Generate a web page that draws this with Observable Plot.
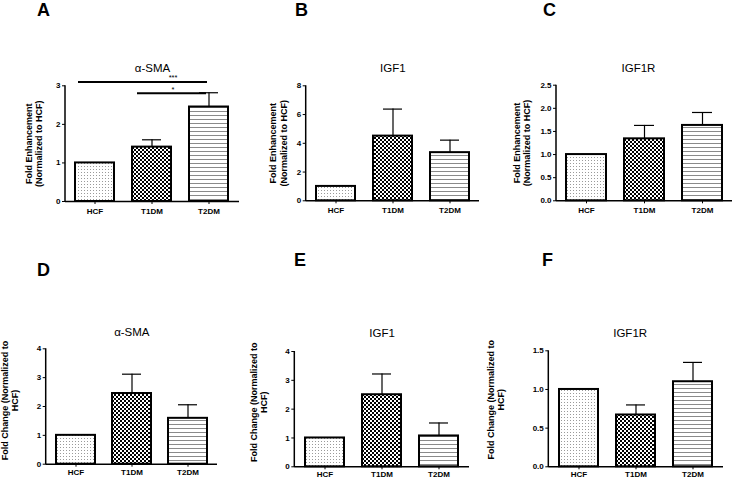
<!DOCTYPE html>
<html><head><meta charset="utf-8">
<script src="https://cdn.jsdelivr.net/npm/d3@7"></script>
<script src="https://cdn.jsdelivr.net/npm/@observablehq/plot@0.6"></script>
<style>
html,body{margin:0;padding:0;background:#fff;}
#root{position:relative;width:733px;height:479px;overflow:hidden;font-family:"Liberation Sans",Arial,sans-serif;}
.panel{position:absolute;}
.letter{position:absolute;font-family:"Liberation Sans",Arial,sans-serif;font-weight:bold;font-size:18px;line-height:1;}
</style></head>
<body>
<svg width="0" height="0" style="position:absolute">
  <defs>
    <pattern id="pDots" width="3" height="3" patternUnits="userSpaceOnUse">
      <rect width="3" height="3" fill="#fff"/><rect x="0" y="0" width="1" height="1" fill="#9a9a9a"/>
    </pattern>
    <pattern id="pCheck" width="4" height="4" patternUnits="userSpaceOnUse">
      <rect width="4" height="4" fill="#fff"/><rect x="0" y="0" width="2" height="2" fill="#000"/><rect x="2" y="2" width="2" height="2" fill="#000"/>
    </pattern>
    <pattern id="pStripes" width="4" height="4" patternUnits="userSpaceOnUse">
      <rect width="4" height="4" fill="#fff"/><rect x="0" y="0" width="4" height="1" fill="#8a8a8a"/>
    </pattern>
  </defs>
</svg>
<div id="root"></div>
<script>
// ---------- data ----------
const categories = ["HCF", "T1DM", "T2DM"];
const fills = ["url(#pDots)", "url(#pCheck)", "url(#pStripes)"];

const aSMA_enh = [1, 1.41, 2.45];
const aSMA_enh_top = [null, 1.60, 2.82];
const IGF1_enh = [1, 4.50, 3.35];
const IGF1_enh_top = [null, 6.38, 4.22];
const IGF1R_enh = [1, 1.34, 1.63];
const IGF1R_enh_top = [null, 1.63, 1.91];

const aSMA_chg = [1, 2.45, 1.59];
const aSMA_chg_top = [null, 3.12, 2.06];
const IGF1_chg = [1, 2.50, 1.07];
const IGF1_chg_top = [null, 3.22, 1.52];
const IGF1R_chg = [1, 0.67, 1.10];
const IGF1R_chg_top = [null, 0.80, 1.35];

const ticksA = [0, 1, 2, 3];
const ticksB = [0, 2, 4, 6, 8];
const ticksC = [0, 0.5, 1.0, 1.5, 2.0, 2.5];
const ticksD = [0, 1, 2, 3, 4];
const ticksE = [0, 1, 2, 3, 4];
const ticksF = [0, 0.5, 1.0, 1.5];

const labelEnh = "Fold Enhancement\n(Normalized to HCF)";
const labelChg = "Fold Change (Normalized to\nHCF)";

// significance brackets for panel A
const sigA = [
  {from: "HCF", to: "T2DM", y: 3.10, stars: "***", il: 3, ir: 21},
  {from: "T1DM", to: "T2DM", y: 2.81, stars: "*", il: 5, ir: 22}
];

const root = document.getElementById("root");
const FONT = "Liberation Sans, Arial, sans-serif";

function yAxisLine() {
  return (index, scales, values, dims) => {
    const l = document.createElementNS("http://www.w3.org/2000/svg", "line");
    l.setAttribute("x1", dims.marginLeft); l.setAttribute("x2", dims.marginLeft);
    l.setAttribute("y1", dims.height - dims.marginBottom + 0.75);
    l.setAttribute("y2", dims.marginTop);
    l.setAttribute("stroke", "black"); l.setAttribute("stroke-width", 1.5);
    return l;
  };
}

function panel(cfg) {
  const data = categories.map((c, i) => ({cat: c, v: cfg.values[i], top: cfg.tops[i], fill: fills[i]}));
  const errs = data.filter(d => d.top != null);
  const marks = [
    Plot.barY(data, {x: "cat", y: "v", fill: "fill", stroke: "black", strokeWidth: 2}),
    Plot.ruleX(errs, {x: "cat", y1: "v", y2: "top", stroke: "black", strokeWidth: 1.2}),
    Plot.tickY(errs, {x: "cat", y: "top", stroke: "black", strokeWidth: 1.2, insetLeft: 10, insetRight: 10}),
    Plot.ruleY([0], {stroke: "black", strokeWidth: 1.5}),
    yAxisLine(),
    Plot.axisY({ticks: cfg.ticks, tickSize: 3, tickPadding: 2, tickFormat: cfg.fmt, label: null, fontWeight: "bold"}),
    Plot.axisX({tickSize: 3, tickPadding: cfg.xpad || 2, label: null, fontWeight: "bold"}),
    Plot.text([cfg.title], {frameAnchor: "top", lineAnchor: "middle", dy: -cfg.titleDy, dx: cfg.titleDx || 0, fontSize: 11.5, fontFamily: FONT, text: d => d}),
    Plot.text([cfg.ylabel], {frameAnchor: "left", textAnchor: "middle", lineAnchor: "middle", rotate: -90, dx: -cfg.labelDx, dy: cfg.labelDy || 0, fontSize: 9, fontWeight: "bold", lineHeight: 1.15, fontFamily: FONT, text: d => d})
  ];
  if (cfg.sig) {
    for (const s of cfg.sig) {
      marks.push(Plot.ruleY([s], {y: "y", x1: "from", x2: "to", stroke: "black", strokeWidth: 2, insetLeft: s.il, insetRight: s.ir}));
    }
    marks.push(Plot.text(cfg.sig, {x: "to", y: "y", text: "stars", dx: -36, dy: -4, fontSize: 7.5, fontFamily: FONT}));
  }
  const chart = Plot.plot({
    width: cfg.w, height: cfg.h,
    marginLeft: cfg.ml, marginRight: cfg.mr, marginTop: cfg.mt, marginBottom: cfg.mb,
    x: {domain: categories, paddingInner: 0.31, paddingOuter: 0.17},
    y: {domain: [0, cfg.ticks[cfg.ticks.length - 1]]},
    style: {fontFamily: FONT, fontSize: "8px", background: "transparent", overflow: "visible"},
    marks
  });
  const wrap = document.createElement("div");
  wrap.className = "panel";
  wrap.style.left = cfg.left + "px"; wrap.style.top = cfg.top + "px";
  wrap.appendChild(chart);
  root.appendChild(wrap);

  const L = document.createElement("div");
  L.className = "letter"; L.textContent = cfg.letter;
  L.style.left = cfg.lx + "px"; L.style.top = cfg.ly + "px";
  root.appendChild(L);
}

const f0 = d3.format("d");
const f1 = d3.format(".1f");
panel({letter: "A", lx: 37, ly: 1, left: 0, top: 55, w: 245, h: 165, ml: 65, mr: 6, mt: 30.3, mb: 19, xpad: 4,
  values: aSMA_enh, tops: aSMA_enh_top, ticks: ticksA, fmt: f0, title: "α-SMA", titleDy: 17, ylabel: labelEnh, labelDx: 32, sig: sigA});
panel({letter: "B", lx: 295, ly: 1, left: 240, top: 55, w: 245, h: 165, ml: 65.7, mr: 6, mt: 30.3, mb: 19.7, xpad: 4,
  values: IGF1_enh, tops: IGF1_enh_top, ticks: ticksB, fmt: f0, title: "IGF1", titleDy: 17, ylabel: labelEnh, labelDx: 28});
panel({letter: "C", lx: 543, ly: 1, left: 480, top: 55, w: 253, h: 165, ml: 76, mr: 1, mt: 29.7, mb: 19.7, xpad: 4,
  values: IGF1R_enh, tops: IGF1R_enh_top, ticks: ticksC, fmt: f1, title: "IGF1R", titleDy: 17, titleDx: -6, ylabel: labelEnh, labelDx: 35});
panel({letter: "D", lx: 37, ly: 261, left: 0, top: 300, w: 240, h: 179, ml: 45.7, mr: 23, mt: 48.3, mb: 15.3,
  values: aSMA_chg, tops: aSMA_chg_top, ticks: ticksD, fmt: f0, title: "α-SMA", titleDy: 16.5, ylabel: labelChg, labelDx: 36.5, labelDy: -6});
panel({letter: "E", lx: 294, ly: 251, left: 240, top: 300, w: 240, h: 179, ml: 54.3, mr: 11, mt: 51, mb: 12.7,
  values: IGF1_chg, tops: IGF1_chg_top, ticks: ticksE, fmt: f0, title: "IGF1", titleDy: 18, ylabel: labelChg, labelDx: 36, labelDy: -7});
panel({letter: "F", lx: 542, ly: 251, left: 480, top: 300, w: 253, h: 179, ml: 68.3, mr: 10, mt: 50.3, mb: 12.7,
  values: IGF1R_chg, tops: IGF1R_chg_top, ticks: ticksF, fmt: f1, title: "IGF1R", titleDy: 17.5, titleDx: -6, ylabel: labelChg, labelDx: 53, labelDy: -9});
</script>
</body></html>
